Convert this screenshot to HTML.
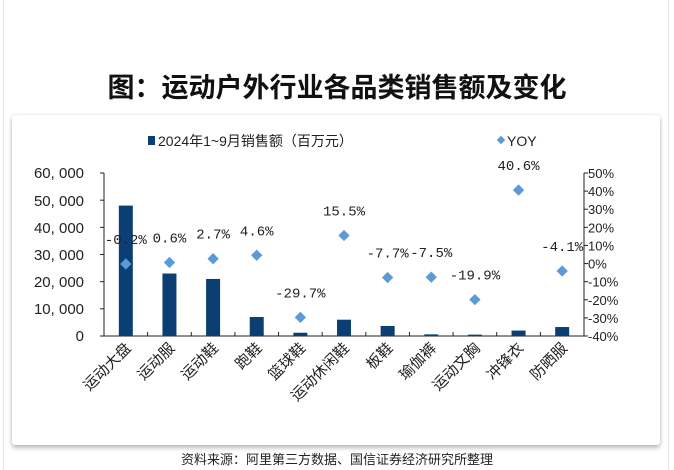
<!DOCTYPE html>
<html><head><meta charset="utf-8"><style>
body{margin:0;width:674px;height:470px;background:#fff;overflow:hidden;font-family:"Liberation Sans","Noto Sans CJK SC",sans-serif}
.frame{position:absolute;left:3px;top:0;width:664px;height:470px;border-left:1px solid #e6e6e6;border-right:1px solid #e6e6e6}
.card{position:absolute;left:12px;top:115px;width:648px;height:330px;background:#fff;box-shadow:0 3px 5px rgba(0,0,0,.25),0 0 3px rgba(0,0,0,.12);border-radius:3px}
.title{position:absolute;left:0;width:674px;top:66px;text-align:center;font-size:27px;font-weight:bold;color:#111}
.src{position:absolute;left:0;width:674px;top:449px;text-align:center;font-size:13px;color:#222}
svg{position:absolute;left:0;top:0}
</style></head><body>
<div class="frame"></div>
<div class="title">图：运动户外行业各品类销售额及变化</div>
<div class="card"></div>
<svg width="674" height="470" font-family="Liberation Sans, Noto Sans CJK SC, sans-serif">
<g font-size="14" fill="#222">
<rect x="148" y="136" width="7" height="9" fill="#0b3f73"/>
<text x="158" y="146">2024年1~9月销售额（百万元）</text>
<rect x="498" y="137" width="6" height="6" fill="#5b9bd5" transform="rotate(45 501 140)"/>
<text x="507" y="146">YOY</text>
</g>
<g stroke="#222" stroke-width="1" fill="none">
<line x1="104" y1="173" x2="104" y2="336"/><line x1="584" y1="173" x2="584" y2="336"/>
<line x1="104" y1="336" x2="584" y2="336"/>
</g>
<g id="g" stroke="#222"></g>
<g id="b"></g>
<g font-size="15" fill="#222" text-anchor="end">
<text x="84" y="178">60, 000</text><text x="84" y="206">50, 000</text><text x="84" y="233">40, 000</text><text x="84" y="260">30, 000</text><text x="84" y="287">20, 000</text><text x="84" y="314">10, 000</text><text x="84" y="341">0</text>
</g>
<g font-size="13" fill="#222" text-anchor="start" id="r"></g>
<g font-size="15" fill="#222" id="xl"></g>
<g font-size="14" fill="#222" text-anchor="middle" id="pl" font-family="Liberation Mono, monospace"></g>
</svg>
<div class="src">资料来源：阿里第三方数据、国信证券经济研究所整理</div>
<script>
var ns="http://www.w3.org/2000/svg";
function el(p,t,a,txt){var e=document.createElementNS(ns,t);for(var k in a)e.setAttribute(k,a[k]);if(txt)e.textContent=txt;document.getElementById(p).appendChild(e);}
var cats=["运动大盘","运动服","运动鞋","跑鞋","篮球鞋","运动休闲鞋","板鞋","瑜伽裤","运动文胸","冲锋衣","防晒服"];
var vals=[48000,23000,21000,7000,1200,6000,3700,600,500,2000,3300];
var yoy=[-0.2,0.6,2.7,4.6,-29.7,15.5,-7.7,-7.5,-19.9,40.6,-4.1];
var w=480/11;
for(var i=0;i<=11;i++){var x=104+i*w;el("g","line",{x1:x,y1:336,x2:x,y2:332});}
for(var i=0;i<7;i++){var y=336-i*163/6;el("g","line",{x1:100,y1:y,x2:104,y2:y});}
for(var i=0;i<10;i++){var y=336-i*163/9;el("g","line",{x1:584,y1:y,x2:588,y2:y});el("r","text",{x:588,y:y+5},(i*10-40)+"%");}
for(var i=0;i<11;i++){var cx=104+w*(i+.5);var h=vals[i]/60000*163;
el("b","rect",{x:cx-7,y:336-h,width:14,height:h,fill:"#0b3f73"});
var yy=263.6-yoy[i]*1.811;
el("b","rect",{x:cx-4,y:yy-4,width:8,height:8,fill:"#5b9bd5",transform:"rotate(45 "+cx+" "+yy+")"});
el("pl","text",{x:cx,y:yy-20},yoy[i].toFixed(1)+"%");
el("xl","text",{x:cx+6,y:349,"text-anchor":"end",transform:"rotate(-45 "+(cx+6)+" 349)"},cats[i]);}
</script>
</body></html>
